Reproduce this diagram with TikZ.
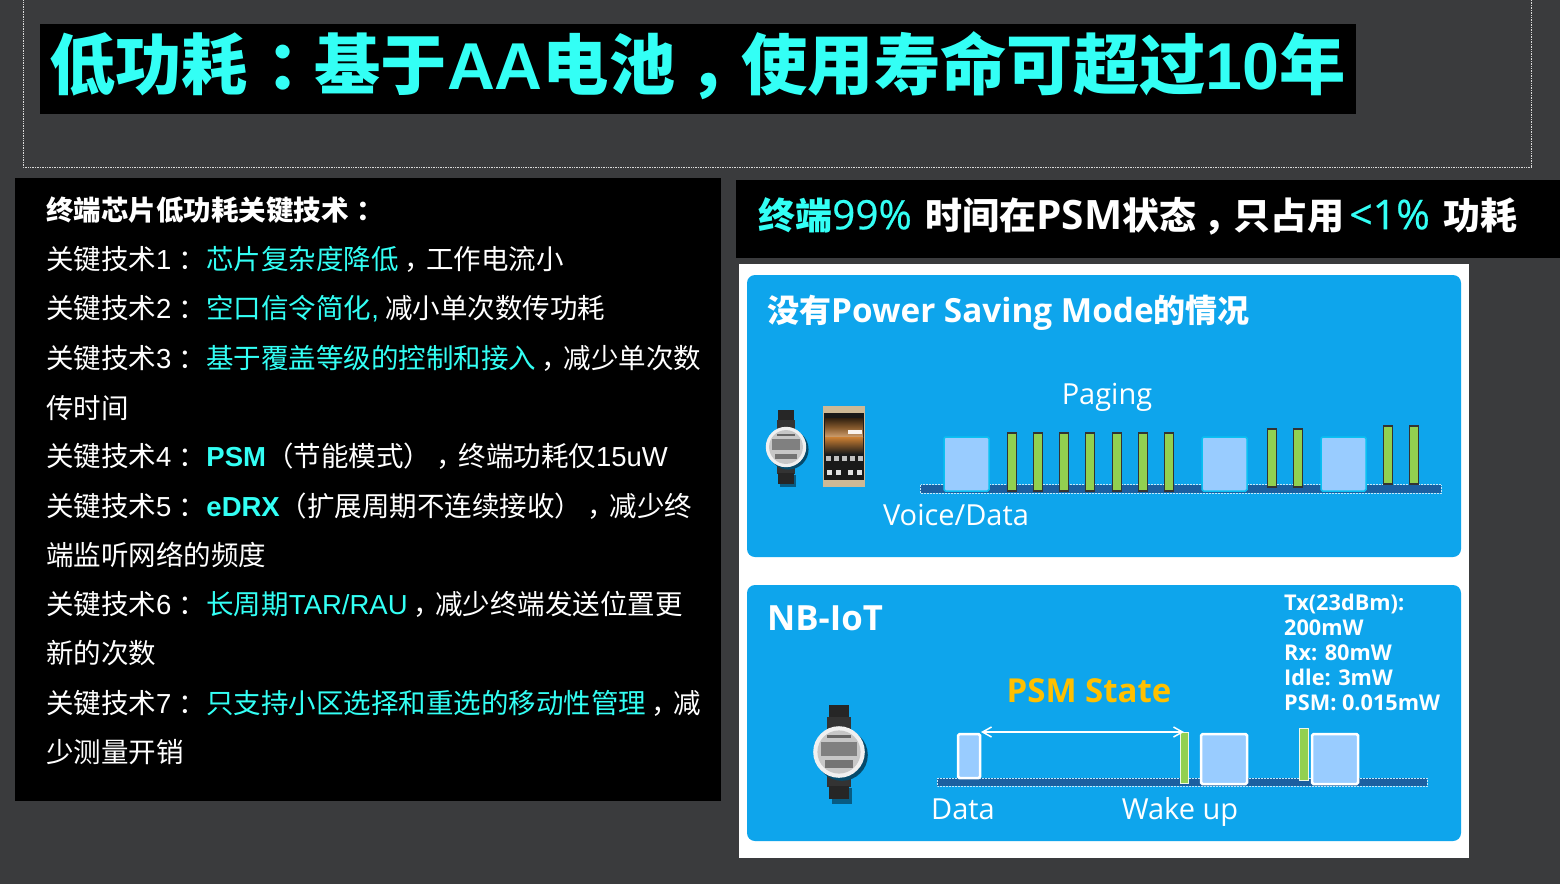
\documentclass[tikz,border=0pt]{standalone}
\usepackage{fontspec}
\usepackage{xcolor}
\usetikzlibrary{arrows.meta}
\setmainfont{Noto Sans CJK SC}
\newfontfamily\cjktc{Noto Sans CJK TC}
\newfontfamily\arial{Liberation Sans}
\newfontfamily\segoe{Open Sans}
\newfontfamily\segoemed[UprightFeatures={FakeBold=0.5}]{Open Sans}
\definecolor{slide-grey}{RGB}{58, 59, 61}
\definecolor{slide-cyan}{RGB}{51, 255, 245}
\definecolor{panel-blue}{RGB}{14, 165, 236}
\definecolor{line-blue}{RGB}{28, 95, 160}
\definecolor{slot-blue}{RGB}{153, 204, 255}
\definecolor{bar-green}{RGB}{146, 208, 80}
\definecolor{psm-yellow}{RGB}{255, 192, 0}
\definecolor{phone-gold}{RGB}{205, 185, 150}
\newcommand{\cy}[1]{\textcolor{slide-cyan}{#1}}
\newcommand{\mao}{\kern.27em ：\kern-.27em\relax}
\newcommand{\dou}{\kern.2em ，\kern-.2em\relax}
\newcommand{\lkuo}{{\cjktc （}}
\newcommand{\rkuo}{{\cjktc ）}}
\newcommand{\keyno}[1]{关键技术{\arial #1}\mao\hspace{7.5pt}}
\tikzset{
  listline/.style={anchor=west, inner sep=0pt, text=white, font=\fontsize{27.5}{30}\selectfont},
  panel/.style={fill=panel-blue, rounded corners=8pt},
  panellabel/.style={inner sep=0pt, text=white, font=\segoe\fontsize{29}{32}\selectfont},
  slot/.style={fill=slot-blue, draw=#1, rounded corners=1.5pt},
  pagebar/.style={fill=bar-green, draw=black!80, line width=1.1pt},
  wakebar/.style={fill=bar-green, draw=white!85!bar-green, line width=1pt},
  timeline/.style={fill=line-blue, draw=white!75!panel-blue, densely dotted, line width=0.5pt},
}
\begin{document}
\begin{tikzpicture}[x=1pt, y=-1pt]
  \useasboundingbox (0, 0) rectangle (1560, 884);
  \fill[slide-grey] (0, 0) rectangle (1560, 884);

  % top title
  \draw[white!85!black, densely dotted, line width=0.7pt] (23, -3) rectangle (1531, 167);
  \fill[black] (40, 24) rectangle (1356, 113.5);
  \node[anchor=west, inner sep=0pt, text=slide-cyan, font=\bfseries\fontsize{66.3}{70}\selectfont] (title) at (49, 65.7)
    {低功耗\mao 基于{\arial AA}电池\dou 使用寿命可超过{\arial 10}年};

  % left list
  \fill[black] (15, 178) rectangle (721, 801);
  \node[listline, font=\bfseries\fontsize{27.5}{30}\selectfont] (line0) at (46, 210) {终端芯片低功耗关键技术\mao};
  \node[listline] (line1) at (46, 259) {\keyno{1}\cy{芯片复杂度降低}\dou 工作电流小};
  \node[listline] (line2) at (46, 309) {\keyno{2}\cy{空口信令简化{\arial ,}} 减小单次数传功耗};
  \node[listline] (line3) at (46, 358) {\keyno{3}\cy{基于覆盖等级的控制和接入}\dou 减少单次数};
  \node[listline] (line3b) at (46, 408) {传时间};
  \node[listline] (line4) at (46, 456) {\keyno{4}\cy{\arial\bfseries PSM}\lkuo 节能模式\rkuo\dou 终端功耗仅{\arial 15uW}};
  \node[listline] (line5) at (46, 506) {\keyno{5}\cy{\arial\bfseries eDRX}\lkuo 扩展周期不连续接收\rkuo\dou 减少终};
  \node[listline] (line5b) at (46, 555) {端监听网络的频度};
  \node[listline] (line6) at (46, 604) {\keyno{6}\cy{长周期{\arial TAR/RAU}}\dou 减少终端发送位置更};
  \node[listline] (line6b) at (46, 653) {新的次数};
  \node[listline] (line7) at (46, 703) {\keyno{7}\cy{只支持小区选择和重选的移动性管理}\dou 减};
  \node[listline] (line7b) at (46, 752) {少测量开销};

  % right heading
  \fill[black] (736, 180) rectangle (1560, 258);
  \node[anchor=west, inner sep=0pt, text=white, font=\bfseries\fontsize{37}{40}\selectfont] (heading) at (758, 216)
    {\cy{终端{\segoemed\mdseries\fontsize{40.5}{40}\selectfont 99\%}}\hspace{5pt} 时间在{\segoe\fontsize{40.5}{40}\selectfont PSM}状态\dou 只占用\hspace{5pt}\cy{{\segoemed\mdseries\fontsize{41}{40}\selectfont <1\%}}\hspace{5pt} 功耗};

  % white sheet with the two panels
  \fill[white] (739, 264) rectangle (1469, 858);
  \fill[panel] (747, 275) rectangle (1461, 557);
  \fill[panel] (747, 585) rectangle (1461, 841);

  % upper panel
  \node[anchor=west, inner sep=0pt, text=white, font=\bfseries\fontsize{32}{36}\selectfont] (nopsm) at (767, 312.5)
    {没有{\segoe\fontsize{33.3}{36}\selectfont Power Saving Mode}的情况};
  \node[panellabel] (paging) at (1107, 397) {Paging};
  \node[panellabel] (voice) at (956, 515) {Voice/Data};
  \filldraw[timeline] (920, 484.5) rectangle (1441, 493);
  \foreach \x in {967, 1225, 1344}
    \filldraw[slot=panel-blue!70!cyan, line width=1.5pt] (\x-23, 437) rectangle (\x+22, 491);
  \foreach \x in {1012, 1038, 1064, 1090, 1117, 1143, 1169}
    \filldraw[pagebar] (\x-4.7, 433) rectangle (\x+4.7, 491);
  \foreach \x in {1272, 1298}
    \filldraw[pagebar] (\x-4.7, 429) rectangle (\x+4.7, 487);
  \foreach \x in {1388, 1414}
    \filldraw[pagebar] (\x-4.7, 426) rectangle (\x+4.7, 484);

  % meter and phone
  \foreach \mx/\my/\ms in {786/447/0.94, 839/752/1.2} {
    \begin{scope}[shift={(\mx, \my)}, scale=\ms]
      \fill[panel-blue!55!black] (-6, 30) rectangle (11, 43);
      \fill[black!85] (-8, -39) rectangle (8, -28);
      \fill[black!80] (-10, -29) rectangle (10, -17);
      \fill[black!80] (-10, 17) rectangle (10, 29);
      \fill[black!85] (-8, 28) rectangle (8, 39);
      \fill[panel-blue!45!black] (2.5, 2.5) circle[radius=21.5];
      \fill[black!6] (0, 0) circle[radius=21.5];
      \fill[black!22] (0, 0) circle[radius=18];
      \fill[black!50] (-15, -8) rectangle (15, 3);
      \fill[black!60] (-10, -14) rectangle (10, -12);
      \fill[black!55] (-12, 7) rectangle (12, 13);
    \end{scope}
  }
  \fill[phone-gold] (823, 406) rectangle (865, 487);
  \fill[black!90] (824, 413) rectangle (864, 480);
  \shade[top color=black!75!brown, bottom color=brown!75!white, middle color=brown!70!black] (825, 418) rectangle (863, 437);
  \shade[top color=brown!80!orange, bottom color=black!90] (825, 437) rectangle (863, 454);
  \fill[white!90!brown] (848, 430) rectangle (862, 434);
  \foreach \x in {828, 836, 844, 852, 860}
    \fill[black!25] (\x-2.5, 456) rectangle (\x+2.5, 461);
  \foreach \x in {829, 838, 850, 859}
    \fill[black!12] (\x-2.5, 470) rectangle (\x+2.5, 475);

  % lower panel
  \node[anchor=west, inner sep=0pt, text=white, font=\segoe\bfseries\fontsize{34.7}{36}\selectfont] (nbiot) at (767, 618) {NB-IoT};
  \node[anchor=north west, inner sep=0pt, align=left, text=white, font=\segoe\bfseries\fontsize{21.7}{25}\selectfont] (powers) at (1284, 594)
    {Tx(23dBm):\\200mW\\Rx: 80mW\\Idle: 3mW\\PSM: 0.015mW};
  \node[inner sep=0pt, text=psm-yellow, font=\segoe\bfseries\fontsize{33}{34}\selectfont] (psmstate) at (1089, 691) {PSM State};
  \node[panellabel] (data) at (963, 809) {Data};
  \node[panellabel] (wakeup) at (1180, 812) {Wake up};
  \filldraw[timeline] (937, 778) rectangle (1427, 786);
  \filldraw[slot=white, line width=2.5pt] (958, 734) rectangle (980, 778);
  \filldraw[wakebar] (1180, 732) rectangle (1188, 783);
  \filldraw[slot=white, line width=2.5pt] (1201, 734) rectangle (1247, 784);
  \filldraw[wakebar] (1299, 728) rectangle (1308, 780);
  \filldraw[slot=white, line width=2.5pt] (1312, 734) rectangle (1358, 784);
  \coordinate (psmstart) at (981, 732);
  \coordinate (psmend) at (1184, 732);
  \draw[white, line width=1.5pt, {Straight Barb[length=9pt, width=10pt]}-{Straight Barb[length=9pt, width=10pt]}] (psmstart) -- (psmend);
\end{tikzpicture}
\end{document}
